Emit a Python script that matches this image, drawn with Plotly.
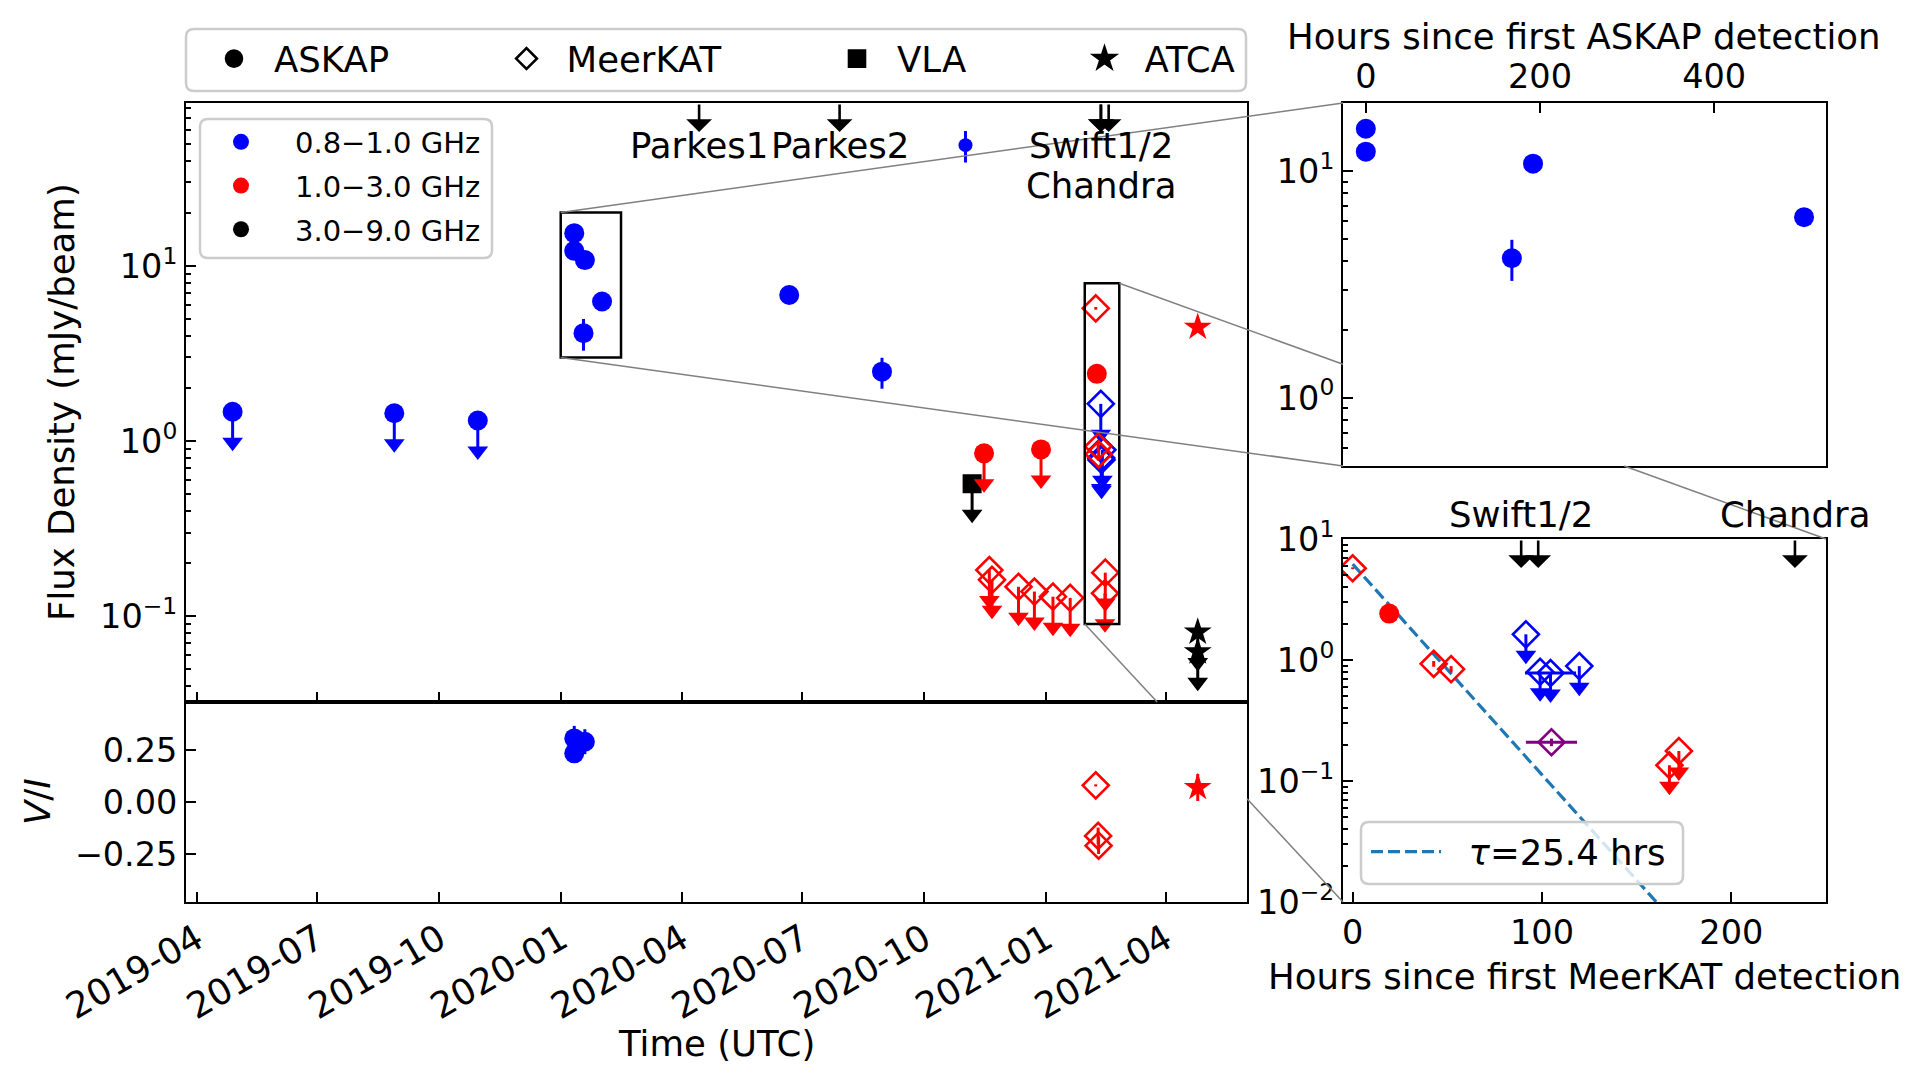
import math
import pandas as pd
import plotly.graph_objects as go

W, H = 1920, 1082
FONT = "DejaVu Sans"
BLUE, RED, BLACK, PURPLE = "#0000ff", "#ff0000", "#000000", "#800080"
C0 = "#1f77b4"

# ===================== data =====================
# ASKAP 0.8-1.0 GHz upper limits (2019)
askap_b_lim_dates = ["2019-04-28", "2019-08-28", "2019-10-30"]
askap_b_lim_flux = [1.47, 1.44, 1.31]
# ASKAP 0.8-1.0 GHz detections, hours since first ASKAP detection
askap_first = "2020-01-10 19:00"
askap_b_hours = [0.0, 0.0, 167.7, 192.0, 503.2]
askap_b_flux = [15.4, 12.2, 4.13, 10.8, 6.27]
askap_b_err = [0.4, 0.4, 0.85, 0.4, 0.3]
askap_b_vi_hours = [0.0, 0.0, 192.0]
askap_b_vi = [0.306, 0.234, 0.29]
askap_b_vi_err = [0.06, 0.03, 0.06]
# later ASKAP 0.8-1.0 GHz detections
askap_b_late_dates = ["2020-06-21", "2020-08-30"]
askap_b_late_flux = [6.83, 2.49]
askap_b_late_err = [0.3, 0.5]
askap_b_small_dates = ["2020-11-01"]
askap_b_small_flux = [49.0]
askap_b_small_err = [10.0]
# ASKAP 1.0-3.0 GHz
askap_r_lim_dates = ["2020-11-15", "2020-12-28"]
askap_r_lim_flux = [0.85, 0.895]
askap_r_hours = [19.3]          # hours since first MeerKAT detection
askap_r_flux = [2.42]
askap_r_err = [0.05]
# VLA 3.0-9.0 GHz
vla_k_lim_dates = ["2020-11-06"]
vla_k_lim_flux = [0.57]
# MeerKAT 1.0-3.0 GHz limits before the first detection
mk_r_pre_dates = ["2020-11-19", "2020-11-21", "2020-12-11", "2020-12-23", "2021-01-06", "2021-01-19"]
mk_r_pre_flux = [0.183, 0.161, 0.147, 0.138, 0.129, 0.127]
# MeerKAT campaign, hours since first MeerKAT detection
mk_first = "2021-02-07 07:00"
mk_r_hours = [0.0, 42.8, 52.0]
mk_r_flux = [5.73, 0.93, 0.84]
mk_r_err = [0.1, 0.05, 0.05]
mk_r_vi = [0.08, -0.163, -0.21]
mk_r_vi_err = [0.005, 0.04, 0.04]
mk_r_lim_hours = [167.3, 172.3]
mk_r_lim_flux = [0.135, 0.177]
mk_b_lim_hours = [91.5, 99.0, 104.5, 119.7]
mk_b_lim_flux = [1.63, 0.80, 0.78, 0.89]
mk_b_lim_herr = [0.0, 0.0, 13.5, 0.0]
mk_stack_hours = [105.0]
mk_stack_flux = [0.209]
mk_stack_err = [0.015]
mk_stack_herr = [13.5]
# ATCA
atca_dates = ["2021-04-25 06:00"]
atca_r_flux = [4.47]
atca_r_err = [0.1]
atca_r_vi = [0.07]
atca_r_vi_err = [0.065]
atca_k_lim_dates = ["2021-04-25 06:00", "2021-04-25 06:00"]
atca_k_lim_flux = [0.081, 0.0625]
# epochs of other facilities
parkes_dates = ["2020-04-14", "2020-07-29"]
parkes_names = ["Parkes1", "Parkes2"]
swift_hours = [89.0, 98.0]
chandra_hours = [233.6]
# exponential decay guide in the MeerKAT zoom panel
decay_hours = [0.0, 160.4]
decay_flux = [6.2, 0.01]
decay_label = "\u00a0\u00a0<i>τ</i>=25.4 hrs"
# zoom boxes drawn on the main panel (date range, flux range)
box_askap = (["2019-12-31 14:00", "2020-02-15 02:00"], [3.0, 20.2])
box_meerkat = (["2021-01-30 00:00", "2021-02-25 01:00"], [0.09, 7.96])
# ticks
date_ticks = ["2019-04-01", "2019-07-01", "2019-10-01", "2020-01-01", "2020-04-01",
              "2020-07-01", "2020-10-01", "2021-01-01", "2021-04-01"]
date_labels = ["2019-04", "2019-07", "2019-10", "2020-01", "2020-04",
               "2020-07", "2020-10", "2021-01", "2021-04"]

# ===================== geometry (pixels) =====================
MAIN = dict(x0=186, x1=1247, y0=103, y1=702)
VI = dict(x0=186, x1=1247, y0=702, y1=902)
TR = dict(x0=1343, x1=1826, y0=103, y1=466)
BR = dict(x0=1343, x1=1826, y0=539, y1=902)
MAIN_XR = ["2019-03-23 20:00", "2021-06-01 10:00"]
MAIN_YR = [-1.491, 1.931]
VI_YR = [-0.481, 0.481]
TR_XR = [-26.2, 528.4]
TR_YR = [math.log10(0.5), math.log10(20)]
BR_XR = [-5.1, 250.0]
BR_YR = [-2.0, 1.0]

LIM_FRAC = 0.67
ERR_W = 3
TICK_FS = 33.5
DATE_FS = 36
LAB_FS = 35.5


def xdom(b):
    return [b["x0"] / W, b["x1"] / W]


def ydom(b):
    return [1 - b["y1"] / H, 1 - b["y0"] / H]


def px(x):
    return x / W


def py(y):
    return 1 - y / H


def after(t0, hours):
    return [(pd.Timestamp(t0) + pd.Timedelta(hours=h)).strftime("%Y-%m-%d %H:%M:%S") for h in hours]


T0, T1 = pd.Timestamp(MAIN_XR[0]), pd.Timestamp(MAIN_XR[1])


def date_px(d):
    return MAIN["x0"] + (pd.Timestamp(d) - T0) / (T1 - T0) * (MAIN["x1"] - MAIN["x0"])


def flux_py(v):
    return MAIN["y1"] - (math.log10(v) - MAIN_YR[0]) / (MAIN_YR[1] - MAIN_YR[0]) * (MAIN["y1"] - MAIN["y0"])


fig = go.Figure()


def points(x, y, color, symbol, xa, ya, yerr=None, xerr=None, size=20, lim=False, open_=False):
    if lim:
        tips = [v * LIM_FRAC for v in y]
        fig.add_trace(go.Scatter(
            x=x, y=tips, mode="markers", xaxis=xa, yaxis=ya, showlegend=False, hoverinfo="skip",
            marker=dict(symbol="triangle-down", size=18, color=color, line=dict(width=0))))
        ey = dict(type="data", symmetric=False, array=[0] * len(y),
                  arrayminus=[v - t for v, t in zip(y, tips)], color=color, thickness=ERR_W, width=0)
    elif yerr is not None:
        ey = dict(type="data", array=yerr, color=color, thickness=ERR_W, width=0)
    else:
        ey = None
    ex = None
    if xerr is not None:
        ex = dict(type="data", array=xerr, color=color, thickness=ERR_W, width=0)
    if open_:
        mk = dict(symbol=symbol + "-open", size=size, color=color, line=dict(width=2.6, color=color))
    else:
        mk = dict(symbol=symbol, size=size, color=color, line=dict(width=0))
    fig.add_trace(go.Scatter(x=x, y=y, mode="markers", xaxis=xa, yaxis=ya, showlegend=False,
                             error_y=ey, error_x=ex, marker=mk))


# ---------------- main panel ----------------
askap_b_dates = after(askap_first, askap_b_hours)
mk_r_dates = after(mk_first, mk_r_hours)
mk_r_lim_dates = after(mk_first, mk_r_lim_hours)
mk_b_lim_dates = after(mk_first, mk_b_lim_hours)
askap_r_dates = after(mk_first, askap_r_hours)

points(askap_b_lim_dates, askap_b_lim_flux, BLUE, "circle", "x", "y", lim=True)
points(askap_b_dates, askap_b_flux, BLUE, "circle", "x", "y", yerr=askap_b_err)
points(askap_b_late_dates, askap_b_late_flux, BLUE, "circle", "x", "y", yerr=askap_b_late_err)
points(askap_b_small_dates, askap_b_small_flux, BLUE, "circle", "x", "y", yerr=askap_b_small_err, size=14)
points(vla_k_lim_dates, vla_k_lim_flux, BLACK, "square", "x", "y", lim=True, size=19)
points(askap_r_lim_dates, askap_r_lim_flux, RED, "circle", "x", "y", lim=True)
points(mk_r_pre_dates, mk_r_pre_flux, RED, "diamond", "x", "y", lim=True, open_=True)
points(mk_r_lim_dates, mk_r_lim_flux, RED, "diamond", "x", "y", lim=True, open_=True)
points(mk_b_lim_dates, mk_b_lim_flux, BLUE, "diamond", "x", "y", lim=True, open_=True)
points(mk_r_dates, mk_r_flux, RED, "diamond", "x", "y", yerr=mk_r_err, open_=True)
points(askap_r_dates, askap_r_flux, RED, "circle", "x", "y", yerr=askap_r_err)
points(atca_k_lim_dates, atca_k_lim_flux, BLACK, "star", "x", "y", lim=True, size=21)
points(atca_dates, atca_r_flux, RED, "star", "x", "y", yerr=atca_r_err, size=21)

# ---------------- V/I panel ----------------
points(after(askap_first, askap_b_vi_hours), askap_b_vi, BLUE, "circle", "x2", "y2", yerr=askap_b_vi_err)
points(mk_r_dates, mk_r_vi, RED, "diamond", "x2", "y2", yerr=mk_r_vi_err, open_=True)
points(atca_dates, atca_r_vi, RED, "star", "x2", "y2", yerr=atca_r_vi_err, size=21)

# ---------------- ASKAP zoom (top right) ----------------
points(askap_b_hours, askap_b_flux, BLUE, "circle", "x3", "y3", yerr=askap_b_err)

# ---------------- MeerKAT zoom (bottom right) ----------------
fig.add_trace(go.Scatter(x=decay_hours, y=decay_flux, mode="lines", xaxis="x4", yaxis="y4",
                         line=dict(color=C0, width=3.2, dash="12px,5px"), name=decay_label,
                         legend="legend6", showlegend=True))
points(mk_r_hours, mk_r_flux, RED, "diamond", "x4", "y4", yerr=mk_r_err, open_=True)
points(askap_r_hours, askap_r_flux, RED, "circle", "x4", "y4", yerr=askap_r_err)
points(mk_b_lim_hours, mk_b_lim_flux, BLUE, "diamond", "x4", "y4", xerr=mk_b_lim_herr, lim=True, open_=True)
points(mk_stack_hours, mk_stack_flux, PURPLE, "diamond", "x4", "y4", yerr=mk_stack_err,
       xerr=mk_stack_herr, open_=True)
points(mk_r_lim_hours, mk_r_lim_flux, RED, "diamond", "x4", "y4", lim=True, open_=True)

# ---------------- legend-only traces ----------------
for nm, col in [("0.8−1.0 GHz", BLUE), ("1.0−3.0 GHz", RED), ("3.0−9.0 GHz", BLACK)]:
    fig.add_trace(go.Scatter(x=[None], y=[None], mode="markers", name=nm, legend="legend",
                             legendgroup=nm, marker=dict(symbol="circle", size=20, color=col),
                             xaxis="x", yaxis="y"))
for i, (nm, sym) in enumerate([("ASKAP", "circle"), ("MeerKAT", "diamond-open"),
                               ("VLA", "square"), ("ATCA", "star")]):
    fig.add_trace(go.Scatter(x=[None], y=[None], mode="markers", name=nm, legend="legend%d" % (i + 2),
                             marker=dict(symbol=sym, size=20, color=BLACK, line=dict(width=2.6, color=BLACK)),
                             xaxis="x", yaxis="y"))

# ---------------- axes ----------------
common = dict(showline=True, linewidth=2, linecolor="black", mirror=True, showgrid=False,
              zeroline=False, ticks="inside", ticklen=10, tickwidth=2, tickcolor="black",
              automargin=False, tickfont=dict(family=FONT, size=TICK_FS, color="black"))
date_common = dict(common)
date_common["tickfont"] = dict(family=FONT, size=DATE_FS, color="black")


def minor_vals(lo, hi):
    out = []
    for e in range(lo, hi + 1):
        for m in range(2, 10):
            out.append(m * 10 ** e)
    return out


minor_common = dict(ticks="inside", ticklen=5, tickwidth=1.5, tickcolor="black", showgrid=False)

fig.update_layout(
    xaxis=dict(domain=xdom(MAIN), anchor="y", type="date", range=MAIN_XR, tickvals=date_ticks,
               showticklabels=False, **common),
    yaxis=dict(domain=ydom(MAIN), anchor="x", type="log", range=MAIN_YR,
               tickvals=[0.1, 1, 10], ticktext=["10<sup>−1</sup>", "10<sup>0</sup>", "10<sup>1</sup>"],
               minor=dict(tickvals=minor_vals(-2, 1), **minor_common), **common),
    xaxis2=dict(domain=xdom(VI), anchor="y2", type="date", range=MAIN_XR, tickvals=date_ticks,
                ticktext=date_labels, tickangle=-30, **date_common),
    yaxis2=dict(domain=ydom(VI), anchor="x2", range=VI_YR, tickvals=[-0.25, 0, 0.25],
                ticktext=["−0.25", "0.00", "0.25"], **common),
    xaxis3=dict(domain=xdom(TR), anchor="y3", side="top", range=TR_XR, tickvals=[0, 200, 400], **common),
    yaxis3=dict(domain=ydom(TR), anchor="x3", type="log", range=TR_YR, tickvals=[1, 10],
                ticktext=["10<sup>0</sup>", "10<sup>1</sup>"],
                minor=dict(tickvals=minor_vals(-1, 1), **minor_common), **common),
    xaxis4=dict(domain=xdom(BR), anchor="y4", range=BR_XR, tickvals=[0, 100, 200], **common),
    yaxis4=dict(domain=ydom(BR), anchor="x4", type="log", range=BR_YR,
                tickvals=[0.01, 0.1, 1, 10],
                ticktext=["10<sup>−2</sup>", "10<sup>−1</sup>", "10<sup>0</sup>", "10<sup>1</sup>"],
                minor=dict(tickvals=minor_vals(-2, 0), **minor_common), **common),
)


# ---------------- legends ----------------
def leg(sym_cx, cy, size, itemwidth=30, yanchor="middle", gap=4):
    return dict(x=px(sym_cx - (itemwidth / 2 + 5)), y=py(cy), xanchor="left", yanchor=yanchor,
                bgcolor="rgba(0,0,0,0)", borderwidth=0, itemwidth=itemwidth, itemsizing="trace",
                font=dict(family=FONT, size=size, color="black"), tracegroupgap=gap,
                traceorder="grouped")


fig.update_layout(
    legend=leg(241, 186, 29, itemwidth=98, gap=3),
    legend2=leg(234, 59, LAB_FS, itemwidth=70),
    legend3=leg(526.5, 59, LAB_FS, itemwidth=70),
    legend4=leg(857, 59, LAB_FS, itemwidth=70),
    legend5=leg(1104.5, 59, LAB_FS, itemwidth=70),
    legend6=leg(1406, 852, LAB_FS, itemwidth=70),
)


def rounded(x0, y0, x1, y1, r=8):
    X = lambda v: v / W
    Y = lambda v: 1 - v / H
    return ("M {a},{b} L {c},{b} Q {d},{b} {d},{e} L {d},{f} Q {d},{g} {c},{g} L {a},{g} "
            "Q {h},{g} {h},{f} L {h},{e} Q {h},{b} {a},{b} Z").format(
        a=X(x0 + r), b=Y(y0), c=X(x1 - r), d=X(x1), e=Y(y0 + r), f=Y(y1 - r), g=Y(y1), h=X(x0))


shapes = []
for (x0, y0, x1, y1) in [(186, 29, 1246, 91), (200, 119, 492, 258), (1361, 822, 1683, 884)]:
    shapes.append(dict(type="path", path=rounded(x0, y0, x1, y1), xref="paper", yref="paper",
                       line=dict(color="#cccccc", width=2.5), fillcolor="rgba(255,255,255,0.8)",
                       layer="above"))

# zoom boxes on the main panel
for (xr, yr) in [box_askap, box_meerkat]:
    shapes.append(dict(type="rect", xref="x", yref="y", x0=xr[0], x1=xr[1], y0=yr[0], y1=yr[1],
                       line=dict(color="black", width=2.5), layer="above"))


# connector lines (hidden where they pass behind the V/I panel or the top-right panel)
def visible_parts(p, q, rect):
    (x0, y0), (x1, y1) = p, q
    dx, dy = x1 - x0, y1 - y0
    t0, t1 = 0.0, 1.0
    for pp, qq in [(-dx, x0 - rect["x0"]), (dx, rect["x1"] - x0), (-dy, y0 - rect["y0"]), (dy, rect["y1"] - y0)]:
        if pp == 0:
            if qq < 0:
                return [(p, q)]
            continue
        t = qq / pp
        if pp < 0:
            t0 = max(t0, t)
        else:
            t1 = min(t1, t)
    if t0 >= t1:
        return [(p, q)]
    pt = lambda t: (x0 + t * dx, y0 + t * dy)
    out = []
    if t0 > 0:
        out.append((p, pt(t0)))
    if t1 < 1:
        out.append((pt(t1), q))
    return out


conn = [
    ((date_px(box_askap[0][0]), flux_py(box_askap[1][1])), (TR["x0"], TR["y0"]), None),
    ((date_px(box_askap[0][0]), flux_py(box_askap[1][0])), (TR["x0"], TR["y1"]), None),
    ((date_px(box_meerkat[0][1]), flux_py(box_meerkat[1][1])), (BR["x1"], BR["y0"]), TR),
    ((date_px(box_meerkat[0][0]), flux_py(box_meerkat[1][0])), (BR["x0"], BR["y1"]), VI),
]
for p, q, hide in conn:
    segs = [(p, q)] if hide is None else visible_parts(p, q, hide)
    for a, b in segs:
        shapes.append(dict(type="line", xref="paper", yref="paper", x0=px(a[0]), y0=py(a[1]),
                           x1=px(b[0]), y1=py(b[1]), line=dict(color="#808080", width=1.5),
                           layer="above"))

fig.update_layout(shapes=shapes)

# ---------------- annotations ----------------
ann = []
AFONT = dict(family=FONT, size=LAB_FS, color="black")


def arrow(x, xref, yref, panel, length=29):
    return dict(x=x, xref=xref, y=1 - length / (panel["y1"] - panel["y0"]),
                yref=yref, text="", showarrow=True, ax=0, ay=-length, axref="pixel", ayref="pixel",
                arrowhead=1, arrowsize=1.65, arrowwidth=2.6, arrowcolor="black")


swift_dates = after(mk_first, swift_hours)
chandra_dates = after(mk_first, chandra_hours)
for d in parkes_dates + swift_dates + chandra_dates:
    ann.append(arrow(d, "x", "y domain", MAIN))
for h in swift_hours + chandra_hours:
    ann.append(arrow(h, "x4", "y4 domain", BR))
for d, nm in zip(parkes_dates, parkes_names):
    ann.append(dict(x=d, xref="x", y=py(145), yref="paper", text=nm, showarrow=False,
                    xanchor="center", yanchor="middle", font=AFONT))
ann.append(dict(x=swift_dates[0], xref="x", y=py(145), yref="paper", text="Swift1/2",
                showarrow=False, xanchor="center", yanchor="middle", font=AFONT))
ann.append(dict(x=swift_dates[0], xref="x", y=py(186), yref="paper", text="Chandra",
                showarrow=False, xanchor="center", yanchor="middle", font=AFONT))
ann.append(dict(x=swift_hours[0], xref="x4", y=py(515), yref="paper", text="Swift1/2",
                showarrow=False, xanchor="center", yanchor="middle", font=AFONT))
ann.append(dict(x=chandra_hours[0], xref="x4", y=py(515), yref="paper", text="Chandra",
                showarrow=False, xanchor="center", yanchor="middle", font=AFONT))
# axis titles
ann.append(dict(x=px(61), y=py(402), xref="paper", yref="paper", text="Flux Density (mJy/beam)",
                textangle=-90, showarrow=False, xanchor="center", yanchor="middle", font=AFONT))
ann.append(dict(x=px(37), y=py(802), xref="paper", yref="paper", text="<i>V</i>/<i>I</i>",
                textangle=-90, showarrow=False, xanchor="center", yanchor="middle", font=AFONT))
ann.append(dict(x=px(716), y=py(1043), xref="paper", yref="paper", text="Time (UTC)",
                showarrow=False, xanchor="center", yanchor="middle", font=AFONT))
ann.append(dict(x=px(1584), y=py(37), xref="paper", yref="paper", text="Hours since first ASKAP detection",
                showarrow=False, xanchor="center", yanchor="middle", font=AFONT))
ann.append(dict(x=px(1584), y=py(976), xref="paper", yref="paper", text="Hours since first MeerKAT detection",
                showarrow=False, xanchor="center", yanchor="middle", font=AFONT))
fig.update_layout(annotations=ann)

fig.update_layout(template="none", width=W, height=H, margin=dict(l=0, r=0, t=0, b=0, autoexpand=False),
                  paper_bgcolor="white", plot_bgcolor="white", font=dict(family=FONT, color="black"),
                  showlegend=True)

fig.write_html("out.html", config={"displayModeBar": False},
               post_script="document.body.style.margin='0';document.body.style.overflow='hidden';")
